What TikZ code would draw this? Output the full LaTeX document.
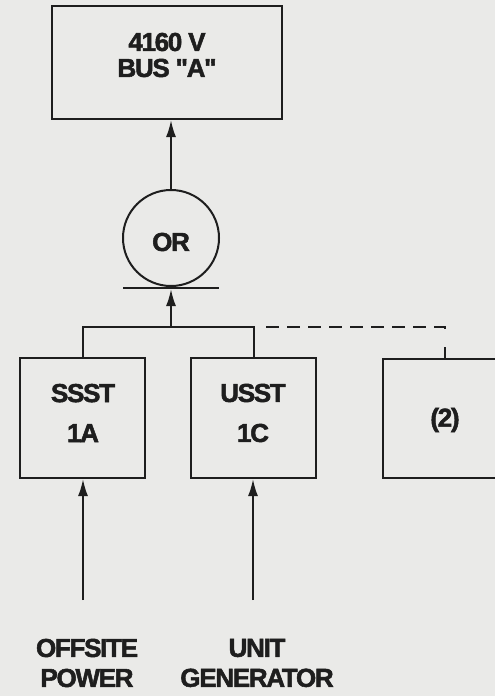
\documentclass[tikz,border=0pt]{standalone}
\usepackage{fontspec}
\newfontfamily\lblfont{Liberation Sans Bold}[LetterSpace=-5,FakeBold=2]
\usetikzlibrary{arrows.meta}
\definecolor{bg}{RGB}{234,234,232}
\definecolor{ink}{RGB}{30,30,30}
\begin{document}
\begin{tikzpicture}[x=1pt,y=-1pt,
  line width=2pt, draw=ink,
  box/.style={draw=ink, line width=2pt, inner sep=0pt},
  lbl/.style={font=\lblfont\fontsize{26}{26}\selectfont, text=ink, align=center},
  arr/.style={-{Latex[length=17pt,width=10pt]}, draw=ink, line width=2pt}]
\fill[bg] (0,0) rectangle (495,696);
\useasboundingbox (0,0) rectangle (495,696);
% boxes
\node[box, minimum width=230pt, minimum height=113pt] (bus) at (167,62.5) {};
\node[lbl] at (167,55) {4160 V\\BUS \symbol{34}A\symbol{34}};
\node[draw=ink, circle, line width=2pt, minimum size=96pt, inner sep=0pt] (or) at (171,238) {};
\node[lbl] at (171,242) {OR};
\node[box, minimum width=125pt, minimum height=120pt] (ssst) at (82.5,418) {};
\node[lbl, font=\lblfont\fontsize{26}{40}\selectfont] at (83,413) {SSST\\1A};
\node[box, minimum width=125pt, minimum height=120pt] (usst) at (253.5,418) {};
\node[lbl, font=\lblfont\fontsize{26}{40}\selectfont] at (253,413) {USST\\1C};
\draw[ink] (520,359) -| (383,478) -- (520,478);
\node[lbl] (two) at (445,420) {(2)};
% OR bar
\coordinate (barL) at (123,288);
\coordinate (barR) at (219,288);
\draw[ink] (barL) -- (barR);
% junction
\coordinate (jl) at (83,327);
\coordinate (jm) at (171,327);
\coordinate (jr) at (254,327);
\coordinate (jd) at (445,327);
\draw[ink] (ssst.north -| jl) -- (jl) -- (jr) -- (usst.north -| jr);
\draw[ink, dash pattern=on 13pt off 8pt] (266,327) -- (jd) -- (445,333);
\draw[ink] (445,347) -- (445,359);
\draw[arr] (jm) -- (171,289);
\draw[arr] (171,190) -- (bus.south -| 171,0);
% bottom inputs
\coordinate (in1) at (83,600);
\coordinate (in2) at (253,600);
\draw[arr] (in1) -- (ssst.south -| in1);
\draw[arr] (in2) -- (usst.south -| in2);
\node[lbl, font=\lblfont\fontsize{26}{30}\selectfont] (off) at (87,663) {OFFSITE\\POWER};
\node[lbl, font=\lblfont\fontsize{26}{30}\selectfont] (gen) at (257,663) {UNIT\\GENERATOR};
\end{tikzpicture}
\end{document}
